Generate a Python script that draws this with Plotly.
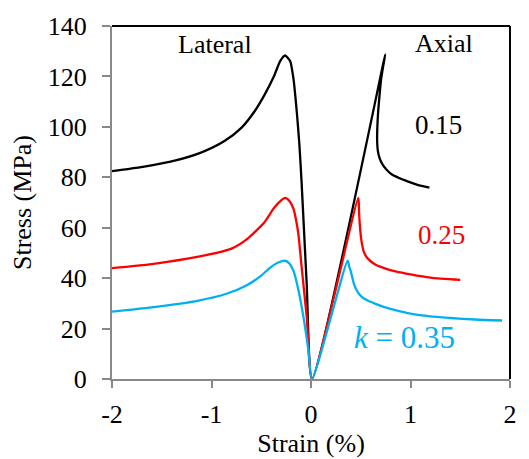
import plotly.graph_objects as go

# Stress-strain curves (lateral strain negative, axial strain positive), k = 0.15 / 0.25 / 0.35
strain_k015 = [-2.0, -1.69, -1.36, -1.10, -0.87, -0.70, -0.57, -0.47, -0.37, -0.31, -0.26,
               -0.21, -0.176, -0.143, -0.117, -0.094, -0.043, 0.01,
               0.746, 0.725, 0.705, 0.69, 0.675, 0.666, 0.665, 0.672, 0.69, 0.72, 0.76, 0.81, 0.88,
               0.97, 1.07, 1.19]
stress_k015 = [82.4, 84.1, 86.7, 89.9, 94.4, 99.6, 106.0, 112.5, 120.3, 126.1, 128.3,
               126.1, 119.0, 106.0, 93.1, 77.6, 37.5, 0.0,
               128.7, 124.0, 119.0, 113.0, 106.0, 99.0, 94.0, 90.5, 87.5, 85.0, 83.0, 81.2, 79.8,
               78.4, 77.0, 75.9]

strain_k025 = [-2.0, -1.6, -1.13, -0.8, -0.64, -0.47, -0.37, -0.3, -0.26, -0.215, -0.174, -0.145,
               -0.125, -0.093, -0.043, 0.01,
               0.476, 0.483, 0.49, 0.5, 0.515, 0.53, 0.56, 0.6, 0.65, 0.75, 0.85, 1.0, 1.2, 1.5]
stress_k025 = [44.0, 45.6, 48.5, 51.7, 55.6, 62.1, 67.9, 70.8, 71.8, 70.5, 67.3, 62.0,
               56.9, 44.0, 24.6, 0.0,
               71.8, 66.0, 61.5, 57.0, 53.0, 50.5, 48.3, 46.7, 45.3, 43.8, 42.7, 41.5, 40.2, 39.3]

strain_k035 = [-2.0, -1.6, -1.13, -0.85, -0.64, -0.5, -0.41, -0.33, -0.26, -0.215, -0.174, -0.125,
               -0.076, -0.027, 0.01,
               0.368, 0.385, 0.4, 0.433, 0.47, 0.516, 0.58, 0.648, 0.73, 0.83, 1.0, 1.2, 1.4, 1.65, 1.92]
stress_k035 = [26.7, 28.4, 31.1, 33.8, 37.3, 41.0, 44.2, 46.2, 46.9, 45.7, 42.7, 35.0,
               24.6, 11.7, 0.0,
               46.9, 44.5, 42.7, 37.5, 34.5, 32.4, 30.9, 29.8, 28.6, 27.5, 25.9, 24.8, 24.2, 23.6, 23.2]

series = [
    ("k = 0.15", strain_k015, stress_k015, "#000000"),
    ("k = 0.25", strain_k025, stress_k025, "#FF0000"),
    ("k = 0.35", strain_k035, stress_k035, "#00B0F0"),
]

x_ticks = [-2, -1, 0, 1, 2]
y_ticks = [0, 20, 40, 60, 80, 100, 120, 140]

FONT = "Liberation Serif"

fig = go.Figure()
for name, xs, ys, color in series:
    fig.add_trace(go.Scatter(x=xs, y=ys, mode="lines", name=name,
                             line=dict(color=color, width=2.3, shape="spline", smoothing=0.6)))

labels = [
    ("Lateral", -0.96, 132.8, "#000000", 26),
    ("Axial", 1.34, 133.0, "#000000", 26),
    ("0.15", 1.285, 100.9, "#000000", 27),
    ("0.25", 1.31, 57.0, "#FF0000", 27),
    ("<i>k</i> = 0.35", 0.94, 16.3, "#00B0F0", 31),
]
for text, x, y, color, size in labels:
    fig.add_annotation(x=x, y=y, text=text, showarrow=False,
                       font=dict(family=FONT, size=size, color=color))

# black frame on top and right; left and bottom axes are grey
fig.add_shape(type="line", xref="paper", yref="paper", x0=0, x1=1, y0=1, y1=1,
              line=dict(color="#000000", width=2))
fig.add_shape(type="line", xref="paper", yref="paper", x0=1, x1=1, y0=0, y1=1,
              line=dict(color="#000000", width=2))

tick_font = dict(family=FONT, size=26, color="#000000")
title_font = dict(family=FONT, size=26, color="#000000")

fig.update_layout(
    width=529, height=459,
    margin=dict(l=112, r=12, t=19, b=79),
    paper_bgcolor="white", plot_bgcolor="white",
    showlegend=False,
    font=dict(family=FONT, size=24, color="#000000"),
    xaxis=dict(range=[-2, 2], tickvals=x_ticks, ticktext=[str(v) for v in x_ticks],
               showgrid=False, zeroline=False, showline=True, linecolor="#898989", linewidth=2,
               ticks="outside", ticklen=7, tickwidth=2, tickcolor="#898989",
               ticklabelstandoff=4, tickfont=tick_font,
               title=dict(text="Strain (%)", font=title_font, standoff=0)),
    yaxis=dict(range=[0, 140], tickvals=y_ticks, ticktext=[str(v) for v in y_ticks],
               showgrid=False, zeroline=False, showline=True, linecolor="#898989", linewidth=2,
               ticks="outside", ticklen=8, tickwidth=2, tickcolor="#898989",
               ticklabelstandoff=10, tickfont=tick_font,
               title=dict(text="Stress (MPa)", font=title_font, standoff=9)),
)

fig.write_html("out.html")
